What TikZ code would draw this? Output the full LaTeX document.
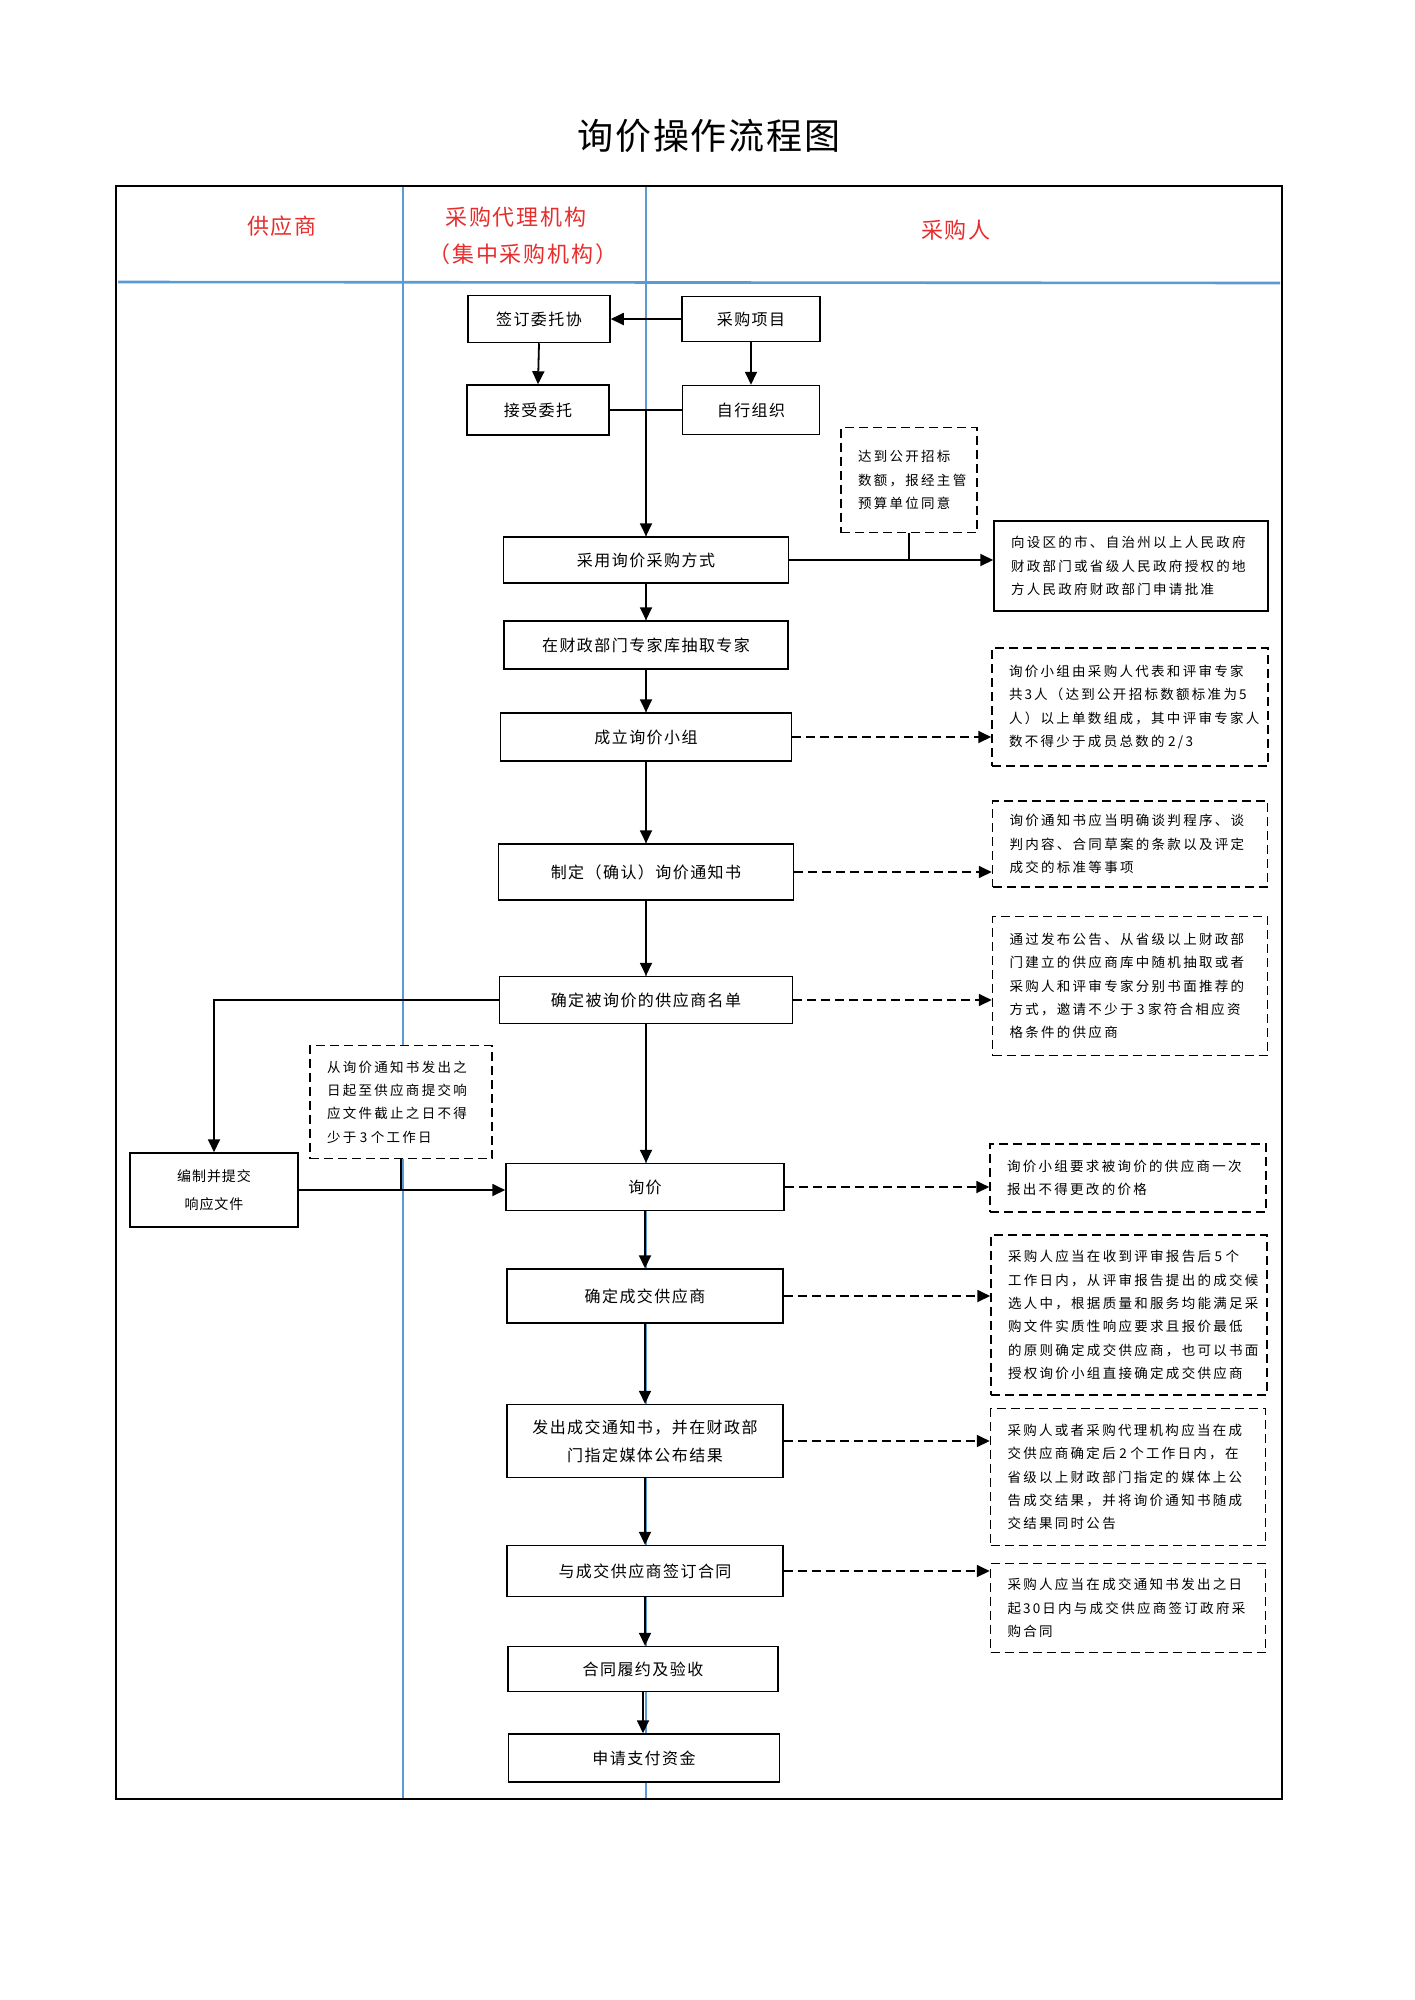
\documentclass[tikz,border=0pt]{standalone}
\usepackage{fontspec}
\setmainfont{Noto Sans CJK SC}
\newfontfamily\notefont[LetterSpace=17]{Noto Sans CJK SC}
\newfontfamily\boxfont[LetterSpace=9]{Noto Sans CJK SC}
\newfontfamily\hdrfont[LetterSpace=9]{Noto Sans CJK SC}
\usetikzlibrary{arrows.meta}
\definecolor{hdrred}{RGB}{232,45,45}
\definecolor{lanebl}{RGB}{91,155,213}
\newcommand\dsp{\hspace{3.5pt}}
\newcommand\nsp{\hspace{2pt}}
\begin{document}
\begin{tikzpicture}[x=1pt,y=-1pt,
  box/.style={draw, line width=1.5pt, fill=white, inner sep=0pt, align=center,
    font=\boxfont\fontsize{16}{28}\selectfont},
  note/.style={draw, line width=1.5pt, fill=white, dash pattern=on 9pt off 5pt,
    inner xsep=17pt, inner ysep=0pt, align=left,
    font=\notefont\fontsize{13.5}{23.3}\selectfont},
  solidnote/.style={draw, line width=1.5pt, fill=white,
    inner xsep=17pt, inner ysep=0pt, align=left,
    font=\notefont\fontsize{13.5}{23.3}\selectfont},
  arr/.style={line width=1.8pt, -{Triangle[length=13pt,width=12pt]}},
  darr/.style={arr, dash pattern=on 9pt off 5pt},
  ln/.style={line width=1.8pt},
  hdr/.style={text=hdrred, font=\hdrfont\fontsize{22}{26}\selectfont},
  lane/.style={draw=lanebl, line width=1.6pt}
]
\useasboundingbox (0,0) rectangle (1414,2000);

% title
\node[font=\fontsize{36}{40}\selectfont\addfontfeature{LetterSpace=5}] (title) at (709,136) {询价操作流程图};

% lanes
\draw[lane] (403,187) -- (403,1798);
\draw[lane] (646,187) -- (646,1798);
\draw[draw=lanebl, line width=2.6pt] (118,282) -- (1280,283);
\draw[line width=2.6pt] (116,186) rectangle (1282,1799);

% headers
\node[hdr] (h1) at (282,226) {供应商};
\node[hdr] (h2) at (516,217) {采购代理机构};
\node[hdr] (h3) at (523,254) {（集中采购机构）};
\node[hdr] (h4) at (956,230) {采购人};

% top boxes
\node[box, minimum width=142, minimum height=47] (qd) at (539,319) {签订委托协};
\node[box, minimum width=138, minimum height=45] (cg) at (751,319) {采购项目};
\node[box, minimum width=142, minimum height=50] (js) at (538,410) {接受委托};
\node[box, minimum width=137, minimum height=49] (zx) at (751,410) {自行组织};

% main column
\node[box, minimum width=285, minimum height=46] (cy) at (646,560) {采用询价采购方式};
\node[box, minimum width=284, minimum height=48] (zj) at (646,645) {在财政部门专家库抽取专家};
\node[box, minimum width=291, minimum height=48] (cl) at (646,737) {成立询价小组};
\node[box, minimum width=295, minimum height=56] (zd) at (646,872) {制定（确认）询价通知书};
\node[box, minimum width=293, minimum height=47] (qm) at (646,1000) {确定被询价的供应商名单};
\node[box, minimum width=278, minimum height=47] (xj) at (645,1187) {询价};
\node[box, minimum width=276, minimum height=54] (qc) at (645,1296) {确定成交供应商};
\node[box, minimum width=276, minimum height=73] (fc) at (645,1441) {发出成交通知书，并在财政部\\门指定媒体公布结果};
\node[box, minimum width=276, minimum height=51] (yc) at (645,1571) {与成交供应商签订合同};
\node[box, minimum width=270, minimum height=45] (hy) at (643,1669) {合同履约及验收};
\node[box, minimum width=271, minimum height=48] (sq) at (644,1758) {申请支付资金};

% supplier box
\node[box, minimum width=168, minimum height=74,
  font=\boxfont\fontsize{14}{27.7}\selectfont\addfontfeature{LetterSpace=7}] (bz) at (214,1190) {编制并提交\\响应文件};

% notes
\node[note, text width=102, minimum height=105] (n1) at (909,480) {达到公开招标\\数额，报经主管\\预算单位同意};
\node[solidnote, text width=240, minimum height=90] (pz) at (1131,566) {向设区的市、自治州以上人民政府\\财政部门或省级人民政府授权的地\\方人民政府财政部门申请批准};
\node[note, text width=242, minimum height=118] (n2) at (1130,707) {\mbox{询价小组由采购人代表和评审专家}\\\mbox{共\nsp 3\nsp 人（达到公开招标数额标准为\nsp 5}\\\mbox{人）以上单数组成，其中评审专家人}\\\mbox{数不得少于成员总数的\dsp 2/3}};
\node[note, text width=241, minimum height=86] (n3) at (1130,844) {询价通知书应当明确谈判程序、谈\\判内容、合同草案的条款以及评定\\成交的标准等事项};
\node[note, text width=241, minimum height=139] (n4) at (1130,986) {通过发布公告、从省级以上财政部\\门建立的供应商库中随机抽取或者\\采购人和评审专家分别书面推荐的\\\mbox{方式，邀请不少于\dsp 3\dsp 家符合相应资}\\格条件的供应商};
\node[note, text width=148, minimum height=113] (n5) at (401,1102) {从询价通知书发出之\\日起至供应商提交响\\应文件截止之日不得\\\mbox{少于\dsp 3\dsp 个工作日}};
\node[note, text width=242, minimum height=68] (n6) at (1128,1178) {询价小组要求被询价的供应商一次\\报出不得更改的价格};
\node[note, text width=242, minimum height=160] (n7) at (1129,1315) {\mbox{采购人应当在收到评审报告后\dsp 5\dsp 个}\\工作日内，从评审报告提出的成交候\\选人中，根据质量和服务均能满足采\\购文件实质性响应要求且报价最低\\的原则确定成交供应商，也可以书面\\授权询价小组直接确定成交供应商};
\node[note, text width=241, minimum height=137] (n8) at (1128,1477) {采购人或者采购代理机构应当在成\\\mbox{交供应商确定后\dsp 2\dsp 个工作日内，在}\\省级以上财政部门指定的媒体上公\\告成交结果，并将询价通知书随成\\交结果同时公告};
\node[note, text width=241, minimum height=89] (n9) at (1128,1608) {采购人应当在成交通知书发出之日\\\mbox{起\nsp 30\nsp 日内与成交供应商签订政府采}\\购合同};

% connectors top
\draw[arr] (cg.west) -- (cg.west -| qd.east);
\draw[arr] (qd.south) -- (js.north);
\draw[arr] (cg.south) -- (zx.north);
\draw[ln] (js.east) -- (js.east -| zx.west);
\coordinate (jn) at (js.east -| cy.north);
\draw[arr] (jn) -- (cy.north);

% approval
\draw[arr] (cy.east) -- (cy.east -| pz.west);
\draw[ln] (n1.south) -- (n1.south |- cy.east);

% main flow
\draw[arr] (cy.south) -- (zj.north);
\draw[arr] (zj.south) -- (cl.north);
\draw[arr] (cl.south) -- (zd.north);
\draw[arr] (zd.south) -- (qm.north);
\draw[arr] (qm.south) -- (qm.south |- xj.north);
\draw[arr] (xj.south) -- (xj.south |- qc.north);
\draw[arr] (qc.south) -- (qc.south |- fc.north);
\draw[arr] (fc.south) -- (fc.south |- yc.north);
\draw[arr] (yc.south) -- (yc.south |- hy.north);
\draw[arr] (hy.south) -- (hy.south |- sq.north);

% dashed to notes
\draw[darr] (cl.east) -- (cl.east -| n2.west);
\draw[darr] (zd.east) -- (zd.east -| n3.west);
\draw[darr] (qm.east) -- (qm.east -| n4.west);
\draw[darr] (xj.east) -- (xj.east -| n6.west);
\draw[darr] (qc.east) -- (qc.east -| n7.west);
\draw[darr] (fc.east) -- (fc.east -| n8.west);
\draw[darr] (yc.east) -- (yc.east -| n9.west);

% supplier loop
\draw[arr] (qm.west) -| (bz.north);
\draw[arr] (bz.east) -- (bz.east -| xj.west);
\draw[ln] (n5.south) -- (n5.south |- bz.east);
\end{tikzpicture}
\end{document}
